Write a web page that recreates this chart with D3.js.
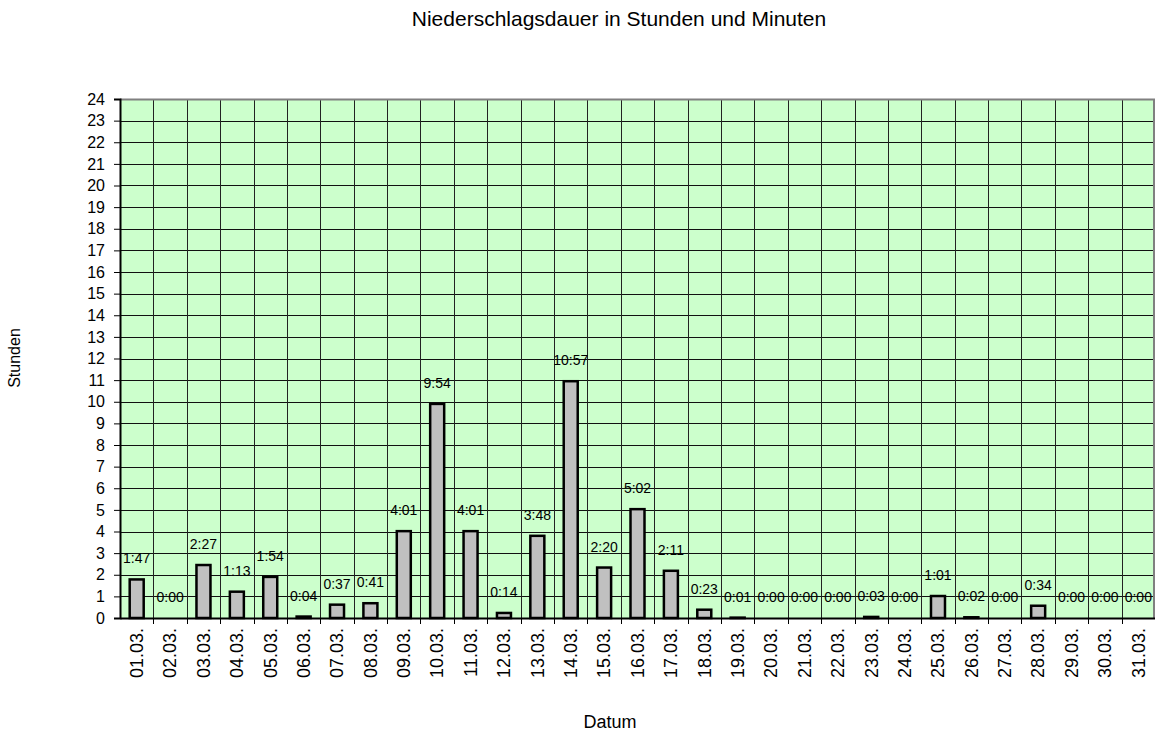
<!DOCTYPE html>
<html lang="de">
<head>
<meta charset="UTF-8">
<title>Niederschlagsdauer</title>
<script src="https://cdnjs.cloudflare.com/ajax/libs/d3/7.8.5/d3.min.js"></script>
<style>
    body { margin: 0; background: #fff; }
    text { font-family: "Liberation Sans", Arial, sans-serif; fill: #000; }
</style>
</head>
<body>
<svg id="chart" width="1155" height="733"></svg>
<script>
    // Tage im März
    var days = ["01.03.", "02.03.", "03.03.", "04.03.", "05.03.", "06.03.", "07.03.", "08.03.",
        "09.03.", "10.03.", "11.03.", "12.03.", "13.03.", "14.03.", "15.03.", "16.03.",
        "17.03.", "18.03.", "19.03.", "20.03.", "21.03.", "22.03.", "23.03.", "24.03.",
        "25.03.", "26.03.", "27.03.", "28.03.", "29.03.", "30.03.", "31.03."];
    // Niederschlagsdauer in Minuten
    var minutes = [107, 0, 147, 73, 114, 4, 37, 41, 241, 594, 241, 14, 228, 657, 140, 302,
        131, 23, 1, 0, 0, 0, 3, 0, 61, 2, 0, 34, 0, 0, 0];
    var yTicks = d3.range(0, 25);

    var svg = d3.select("#chart");
    var pLeft = 120, pRight = 1155, pTop = 99, pBottom = 618;

    var x = d3.scaleBand().domain(days).range([pLeft, pRight]);
    var y = d3.scaleLinear().domain([0, 24]).range([pBottom, pTop]);

    function fmt(m) {
        var mm = m % 60;
        return Math.floor(m / 60) + ":" + (mm < 10 ? "0" : "") + mm;
    }

    // plot background
    svg.append("rect")
        .attr("x", pLeft).attr("y", pTop)
        .attr("width", pRight - pLeft).attr("height", pBottom - pTop)
        .attr("fill", "#ccffcc");

    // horizontal grid
    svg.append("g")
        .selectAll("line")
        .data(yTicks.slice(1))
        .enter().append("line")
        .attr("x1", pLeft).attr("x2", pRight)
        .attr("y1", function(d) { return Math.round(y(d)) + 0.5; })
        .attr("y2", function(d) { return Math.round(y(d)) + 0.5; })
        .attr("stroke", "#111").attr("stroke-width", 1);

    // vertical grid at category boundaries
    svg.append("g")
        .selectAll("line")
        .data(days.slice(1))
        .enter().append("line")
        .attr("x1", function(d) { return Math.round(x(d)) + 0.5; })
        .attr("x2", function(d) { return Math.round(x(d)) + 0.5; })
        .attr("y1", pTop).attr("y2", pBottom)
        .attr("stroke", "#222").attr("stroke-width", 1);

    // top and right border
    svg.append("path")
        .attr("d", "M" + pLeft + "," + (pTop + 0.5) + "H" + (pRight - 1) + "V" + pBottom)
        .attr("fill", "none").attr("stroke", "#808080").attr("stroke-width", 2);

    // bars
    var bw = 14;
    svg.append("g")
        .selectAll("rect")
        .data(minutes)
        .enter().append("rect")
        .attr("x", function(d, i) { return x(days[i]) + x.bandwidth() / 2 - bw / 2; })
        .attr("y", function(d) { return y(d / 60); })
        .attr("width", bw)
        .attr("height", function(d) { return pBottom - y(d / 60); })
        .attr("fill", "#c0c0c0")
        .attr("stroke", "#000")
        .attr("stroke-width", 2.5);

    // value labels
    svg.append("g")
        .selectAll("text")
        .data(minutes)
        .enter().append("text")
        .attr("x", function(d, i) { return x(days[i]) + x.bandwidth() / 2; })
        .attr("y", function(d) { return y(d / 60) - 16; })
        .attr("text-anchor", "middle")
        .style("font-size", "14px")
        .text(function(d) { return fmt(d); });

    // y axis
    var yAxis = svg.append("g")
        .attr("transform", "translate(" + pLeft + ",0)")
        .call(d3.axisLeft(y).tickValues(yTicks).tickSize(6).tickPadding(9));
    yAxis.select(".domain").attr("stroke", "#000").attr("stroke-width", 2);
    yAxis.selectAll(".tick line").attr("stroke", "#000");
    yAxis.selectAll(".tick text").style("font-size", "16px")
        .style("font-family", "'Liberation Sans', Arial, sans-serif");

    // x axis
    var xAxis = svg.append("g")
        .attr("transform", "translate(0," + pBottom + ")")
        .call(d3.axisBottom(x).tickSize(0));
    xAxis.select(".domain").attr("stroke", "#000").attr("stroke-width", 2);
    xAxis.selectAll(".tick text")
        .attr("transform", "rotate(-90)")
        .attr("x", -10).attr("y", 0).attr("dy", "0.35em")
        .attr("text-anchor", "end")
        .style("font-size", "18px")
        .style("font-family", "'Liberation Sans', Arial, sans-serif");
    // tick marks between categories
    xAxis.append("g")
        .selectAll("line")
        .data(days.slice(1))
        .enter().append("line")
        .attr("x1", function(d) { return Math.round(x(d)) + 0.5; })
        .attr("x2", function(d) { return Math.round(x(d)) + 0.5; })
        .attr("y1", 0).attr("y2", 6)
        .attr("stroke", "#000");

    // titles
    svg.append("text")
        .attr("x", 619).attr("y", 26)
        .attr("text-anchor", "middle")
        .style("font-size", "21px")
        .text("Niederschlagsdauer in Stunden und Minuten");
    svg.append("text")
        .attr("transform", "translate(20,358) rotate(-90)")
        .attr("text-anchor", "middle")
        .style("font-size", "16px")
        .text("Stunden");
    svg.append("text")
        .attr("x", 610).attr("y", 728)
        .attr("text-anchor", "middle")
        .style("font-size", "18px")
        .text("Datum");
</script>
</body>
</html>
